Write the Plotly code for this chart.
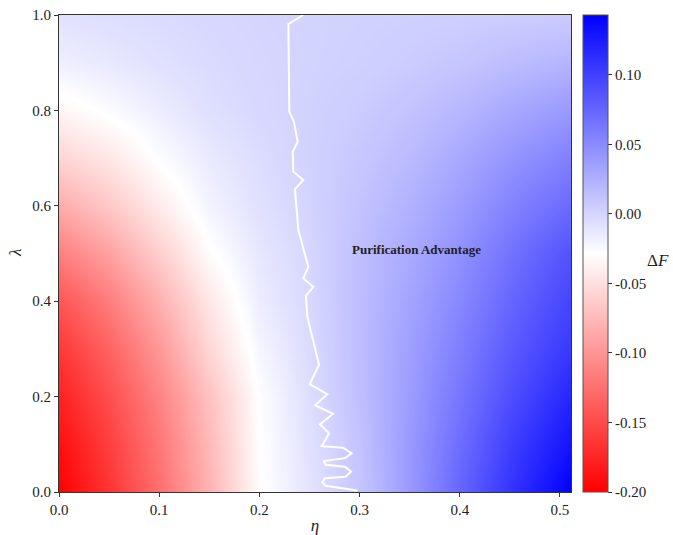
import plotly.graph_objects as go

# grid (cell centres)
eta = [0.0, 0.05, 0.10, 0.15, 0.20, 0.25, 0.30, 0.35, 0.40, 0.45, 0.51]
lam = [0.0, 0.1, 0.2, 0.3, 0.4, 0.5, 0.6, 0.7, 0.8, 0.9, 1.0]

# Delta F values, one list per lambda row
dF_l00 = [-0.200, -0.165, -0.126, -0.080, -0.030, -0.010, 0.010, 0.040, 0.075, 0.108, 0.143]
dF_l01 = [-0.190, -0.158, -0.120, -0.076, -0.029, -0.008, 0.012, 0.040, 0.070, 0.100, 0.130]
dF_l02 = [-0.178, -0.148, -0.112, -0.070, -0.028, -0.006, 0.015, 0.038, 0.064, 0.090, 0.118]
dF_l03 = [-0.163, -0.134, -0.098, -0.056, -0.022, -0.004, 0.016, 0.036, 0.058, 0.082, 0.105]
dF_l04 = [-0.143, -0.116, -0.082, -0.045, -0.016, -0.002, 0.016, 0.033, 0.052, 0.074, 0.097]
dF_l05 = [-0.115, -0.092, -0.062, -0.031, -0.012, -0.001, 0.015, 0.029, 0.046, 0.066, 0.088]
dF_l06 = [-0.085, -0.066, -0.042, -0.020, -0.008, 0.001, 0.012, 0.024, 0.038, 0.055, 0.072]
dF_l07 = [-0.057, -0.045, -0.027, -0.014, -0.005, 0.002, 0.009, 0.018, 0.030, 0.043, 0.057]
dF_l08 = [-0.035, -0.026, -0.016, -0.007, -0.002, 0.002, 0.006, 0.012, 0.020, 0.030, 0.040]
dF_l09 = [-0.018, -0.013, -0.008, -0.004, -0.001, 0.001, 0.003, 0.006, 0.010, 0.016, 0.022]
dF_l10 = [-0.008, -0.006, -0.004, -0.002, 0.000, 0.001, 0.002, 0.003, 0.004, 0.005, 0.006]

# Delta F = 0 boundary (white line)
boundary_eta = [0.2438, 0.2289, 0.2299, 0.2345, 0.2382, 0.2332, 0.2338, 0.2438, 0.2355, 0.2389,
                0.2488, 0.2438, 0.2538, 0.2465, 0.2478, 0.2595, 0.2502, 0.2678, 0.2555, 0.2735,
                0.2605, 0.2695, 0.2622, 0.2834, 0.2921, 0.2854, 0.2645, 0.2662, 0.2854, 0.2914,
                0.2861, 0.2655, 0.2628, 0.2662, 0.2977]
boundary_lam = [1.000, 0.981, 0.797, 0.776, 0.734, 0.713, 0.672, 0.654, 0.635, 0.549,
                0.472, 0.448, 0.430, 0.411, 0.368, 0.267, 0.226, 0.205, 0.182, 0.164,
                0.142, 0.123, 0.096, 0.093, 0.081, 0.071, 0.065, 0.057, 0.053, 0.043,
                0.032, 0.029, 0.020, 0.013, 0.003]

cbar_vals = [-0.20, -0.15, -0.10, -0.05, 0.00, 0.05, 0.10]
cbar_text = ["-0.20", "-0.15", "-0.10", "-0.05", "0.00", "0.05", "0.10"]
x_ticks = [0.0, 0.1, 0.2, 0.3, 0.4, 0.5]
y_ticks = [0.0, 0.2, 0.4, 0.6, 0.8, 1.0]

z = [dF_l00, dF_l01, dF_l02, dF_l03, dF_l04, dF_l05, dF_l06, dF_l07, dF_l08, dF_l09, dF_l10]

FONT = "Liberation Serif"

fig = go.Figure()
fig.add_trace(go.Heatmap(
    x=eta, y=lam, z=z, zsmooth="best",
    zmin=-0.2, zmax=0.143,
    colorscale=[[0.0, "rgb(255,0,0)"], [0.5, "rgb(255,255,255)"], [1.0, "rgb(0,0,255)"]],
    colorbar=dict(
        x=(583 - 59) / 512, xanchor="left", xpad=0,
        y=0.5, yanchor="middle", len=1.0, lenmode="fraction", ypad=0,
        thickness=25, thicknessmode="pixels",
        outlinewidth=1, outlinecolor="#555",
        tickmode="array", tickvals=cbar_vals, ticktext=cbar_text,
        ticks="outside", ticklen=4, tickcolor="#333",
        tickfont=dict(family=FONT, size=15, color="#222"),
    ),
    hoverinfo="skip",
))

fig.add_trace(go.Scatter(
    x=boundary_eta, y=boundary_lam, mode="lines",
    line=dict(color="white", width=2), showlegend=False, hoverinfo="skip",
))

fig.add_annotation(
    x=0.357, y=0.509, xref="x", yref="y", showarrow=False,
    text="<b>Purification Advantage</b>",
    font=dict(family=FONT, size=13, color="#222"),
)
fig.add_annotation(
    x=(658 - 59) / 512, y=(492 - 260) / 477, xref="paper", yref="paper",
    xanchor="center", yanchor="middle",
    showarrow=False, text="Δ<i>F</i>",
    font=dict(family=FONT, size=17, color="#222"),
)
# y-axis title (rotated like a matplotlib ylabel)
fig.add_annotation(
    x=(15 - 59) / 512, y=(492 - 253) / 477, xref="paper", yref="paper",
    xanchor="center", yanchor="middle", textangle=-90,
    showarrow=False, text="<i>λ</i>",
    font=dict(family=FONT, size=17, color="#222"),
)

fig.update_layout(
    width=673, height=535,
    margin=dict(l=59, r=102, t=15, b=43),
    paper_bgcolor="white", plot_bgcolor="white",
    showlegend=False,
    font=dict(family=FONT, size=15, color="#222"),
)
fig.update_xaxes(
    range=[0, 0.511], tickvals=x_ticks, ticktext=[f"{v:.1f}" for v in x_ticks],
    ticks="outside", ticklen=4, tickcolor="#333",
    showline=True, linecolor="#333", linewidth=1, mirror=True,
    showgrid=False, zeroline=False, automargin=False,
    title=dict(text="<i>η</i>", standoff=2, font=dict(family=FONT, size=17)),
    tickfont=dict(family=FONT, size=15),
)
fig.update_yaxes(
    range=[0, 1.0], tickvals=y_ticks, ticktext=[f"{v:.1f}" for v in y_ticks],
    ticks="outside", ticklen=4, tickcolor="#333",
    showline=True, linecolor="#333", linewidth=1, mirror=True,
    showgrid=False, zeroline=False, automargin=False,
    tickfont=dict(family=FONT, size=15),
)

fig.write_html("out.html", config={"displayModeBar": False},
               post_script="document.body.style.margin='0';")
